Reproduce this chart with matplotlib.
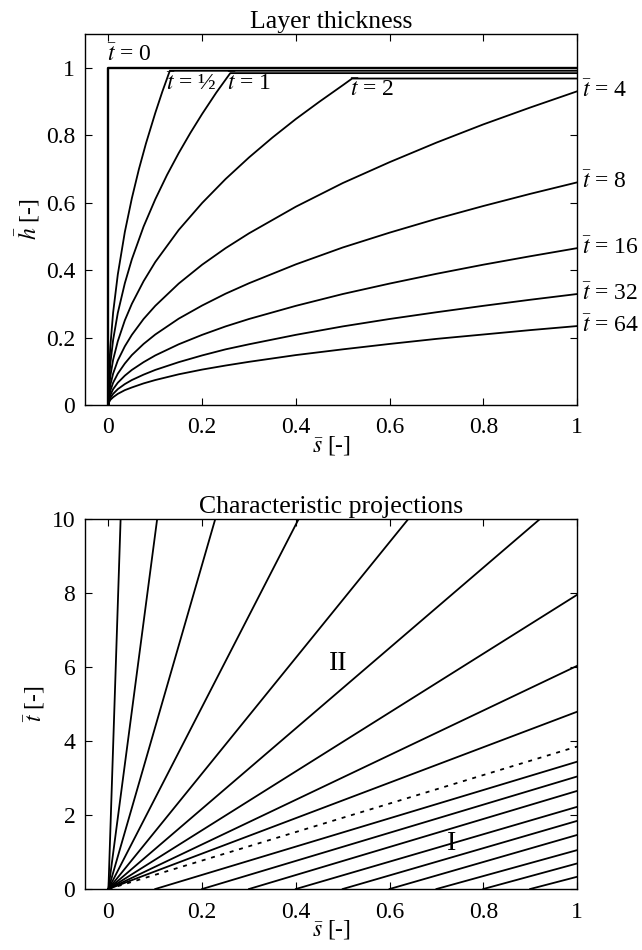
#!/usr/bin/env python3
"""Layer thickness profiles and characteristic projections (two stacked panels)."""

import matplotlib

matplotlib.use("Agg")
import matplotlib.pyplot as plt

# --- top panel: layer thickness h(s) for several times t ---------------------
S_GRID = [0, 0.001, 0.004, 0.01, 0.02, 0.035, 0.05, 0.075, 0.1, 0.15,
          0.2, 0.25, 0.3, 0.4, 0.5, 0.6, 0.7, 0.8, 0.9, 1.0]

S_T0 = [0, 0, 1.0]
H_T0 = [0, 1.0, 1.0]

S_THALF = [0, 0.001, 0.004, 0.01, 0.02, 0.035, 0.05, 0.065, 0.08, 0.1, 0.115, 0.131, 1.0]
H_THALF = [0, 0.087, 0.173, 0.274, 0.387, 0.513, 0.613, 0.699, 0.775, 0.866, 0.929, 0.991, 0.991]

S_T1 = [0, 0.001, 0.004, 0.01, 0.02, 0.035, 0.05, 0.075, 0.1, 0.125, 0.15, 0.175, 0.2, 0.23, 0.26, 1.0]
H_T1 = [0, 0.061, 0.122, 0.193, 0.273, 0.361, 0.432, 0.529, 0.610, 0.682, 0.747, 0.807, 0.863,
        0.926, 0.984, 0.984]

S_T2 = [0, 0.001, 0.004, 0.01, 0.02, 0.035, 0.05, 0.075, 0.1, 0.15, 0.2, 0.25, 0.3, 0.35,
        0.4, 0.45, 0.5, 0.52, 1.0]
H_T2 = [0, 0.042, 0.085, 0.134, 0.189, 0.251, 0.300, 0.367, 0.424, 0.519, 0.599, 0.670, 0.734,
        0.793, 0.848, 0.899, 0.948, 0.968, 0.968]

H_T4 = [0, 0.029, 0.059, 0.093, 0.132, 0.174, 0.208, 0.255, 0.294, 0.360,
        0.416, 0.465, 0.509, 0.588, 0.658, 0.720, 0.778, 0.832, 0.882, 0.930]
H_T8 = [0, 0.021, 0.042, 0.066, 0.093, 0.123, 0.148, 0.181, 0.209, 0.256,
        0.295, 0.330, 0.361, 0.417, 0.467, 0.511, 0.552, 0.590, 0.626, 0.660]
H_T16 = [0, 0.015, 0.029, 0.047, 0.066, 0.087, 0.104, 0.127, 0.147, 0.180,
         0.208, 0.233, 0.255, 0.294, 0.329, 0.360, 0.389, 0.416, 0.441, 0.465]
H_T32 = [0, 0.010, 0.021, 0.033, 0.047, 0.062, 0.074, 0.090, 0.104, 0.127,
         0.147, 0.165, 0.180, 0.208, 0.233, 0.255, 0.275, 0.294, 0.312, 0.329]
H_T64 = [0, 0.007, 0.015, 0.023, 0.033, 0.044, 0.052, 0.064, 0.074, 0.091,
         0.105, 0.117, 0.128, 0.148, 0.165, 0.181, 0.196, 0.209, 0.222, 0.234]

RIGHT_LABELS = ["4", "8", "16", "32", "64"]

# --- bottom panel: characteristic lines ---------------------------------------
FAN_END_S = [0.026, 0.104, 0.228, 0.406, 0.640, 0.921, 1.0, 1.0, 1.0]
FAN_END_T = [10, 10, 10, 10, 10, 10, 7.95, 6.03, 4.79]
DOTTED_END_T = 3.85
REGION1_START_S = [0.1, 0.2, 0.3, 0.4, 0.5, 0.6, 0.7, 0.8, 0.9]
REGION1_END_T = [3.44, 3.04, 2.65, 2.22, 1.84, 1.46, 1.05, 0.69, 0.33]

FS = 17
LW = 1.3

plt.rcParams["font.family"] = ["Liberation Serif", "DejaVu Serif"]
plt.rcParams["mathtext.fontset"] = "stix"
plt.rcParams["font.size"] = FS


def style_axes(ax):
    ax.tick_params(direction="in", top=True, right=True, length=5, width=0.8,
                   labelsize=FS)
    ax.tick_params(axis="x", pad=9)
    ax.tick_params(axis="y", pad=7)
    for sp in ax.spines.values():
        sp.set_linewidth(1.0)
    ax.set_xlim(-0.05, 1)
    ax.set_xticks([0, 0.2, 0.4, 0.6, 0.8, 1])
    ax.set_xticklabels(["0", "0.2", "0.4", "0.6", "0.8", "1"])


def plot_thickness(ax):
    ax.plot(S_T0, H_T0, color="black", lw=LW + 0.4)
    ax.plot(S_THALF, H_THALF, color="black", lw=LW)
    ax.plot(S_T1, H_T1, color="black", lw=LW)
    ax.plot(S_T2, H_T2, color="black", lw=LW)
    for h in [H_T4, H_T8, H_T16, H_T32, H_T64]:
        ax.plot(S_GRID, h, color="black", lw=LW)

    ax.text(-0.003, 1.005, r"$\bar{t}$ = 0", ha="left", va="bottom", fontsize=FS)
    ax.text(0.122, 0.95, r"$\bar{t}$ = ½", ha="left", va="center", fontsize=FS)
    ax.text(0.253, 0.95, r"$\bar{t}$ = 1", ha="left", va="center", fontsize=FS)
    ax.text(0.516, 0.935, r"$\bar{t}$ = 2", ha="left", va="center", fontsize=FS)
    for lab, h in zip(RIGHT_LABELS, [H_T4, H_T8, H_T16, H_T32, H_T64]):
        ax.text(1.01, h[-1], r"$\bar{t}$ = " + lab, ha="left", va="center",
                fontsize=FS, clip_on=False)

    style_axes(ax)
    ax.set_ylim(0, 1.1)
    ax.set_yticks([0, 0.2, 0.4, 0.6, 0.8, 1])
    ax.set_yticklabels(["0", "0.2", "0.4", "0.6", "0.8", "1"])
    ax.set_title("Layer thickness", fontsize=FS + 1.5, pad=4)
    ax.set_xlabel(r"$\bar{s}$ [-]", fontsize=FS, labelpad=-3)
    ax.set_ylabel(r"$\bar{h}$ [-]", fontsize=FS, labelpad=3)


def plot_characteristics(ax):
    for s_end, t_end in zip(FAN_END_S, FAN_END_T):
        ax.plot([0, s_end], [0, t_end], color="black", lw=LW)
    ax.plot([0, 1], [0, DOTTED_END_T], color="black", lw=LW, ls=(0, (2.2, 3.2)))
    for s0, t_end in zip(REGION1_START_S, REGION1_END_T):
        ax.plot([s0, 1], [0, t_end], color="black", lw=LW)

    ax.text(0.49, 6.1, "II", ha="center", va="center", fontsize=FS + 3)
    ax.text(0.733, 1.22, "I", ha="center", va="center", fontsize=FS + 3)

    style_axes(ax)
    ax.set_ylim(0, 10)
    ax.set_yticks([0, 2, 4, 6, 8, 10])
    ax.set_title("Characteristic projections", fontsize=FS + 1.5, pad=4)
    ax.set_xlabel(r"$\bar{s}$ [-]", fontsize=FS, labelpad=-3)
    ax.set_ylabel(r"$\bar{t}$ [-]", fontsize=FS, labelpad=3)


def main():
    fig = plt.figure(figsize=(6.42, 9.5), dpi=100)
    ax_top = fig.add_axes([0.1324, 0.5737, 0.7664, 0.3905])
    ax_bot = fig.add_axes([0.1324, 0.0642, 0.7664, 0.3895])
    plot_thickness(ax_top)
    plot_characteristics(ax_bot)
    fig.savefig("out.png", dpi=100)
    plt.close(fig)


if __name__ == "__main__":
    main()
